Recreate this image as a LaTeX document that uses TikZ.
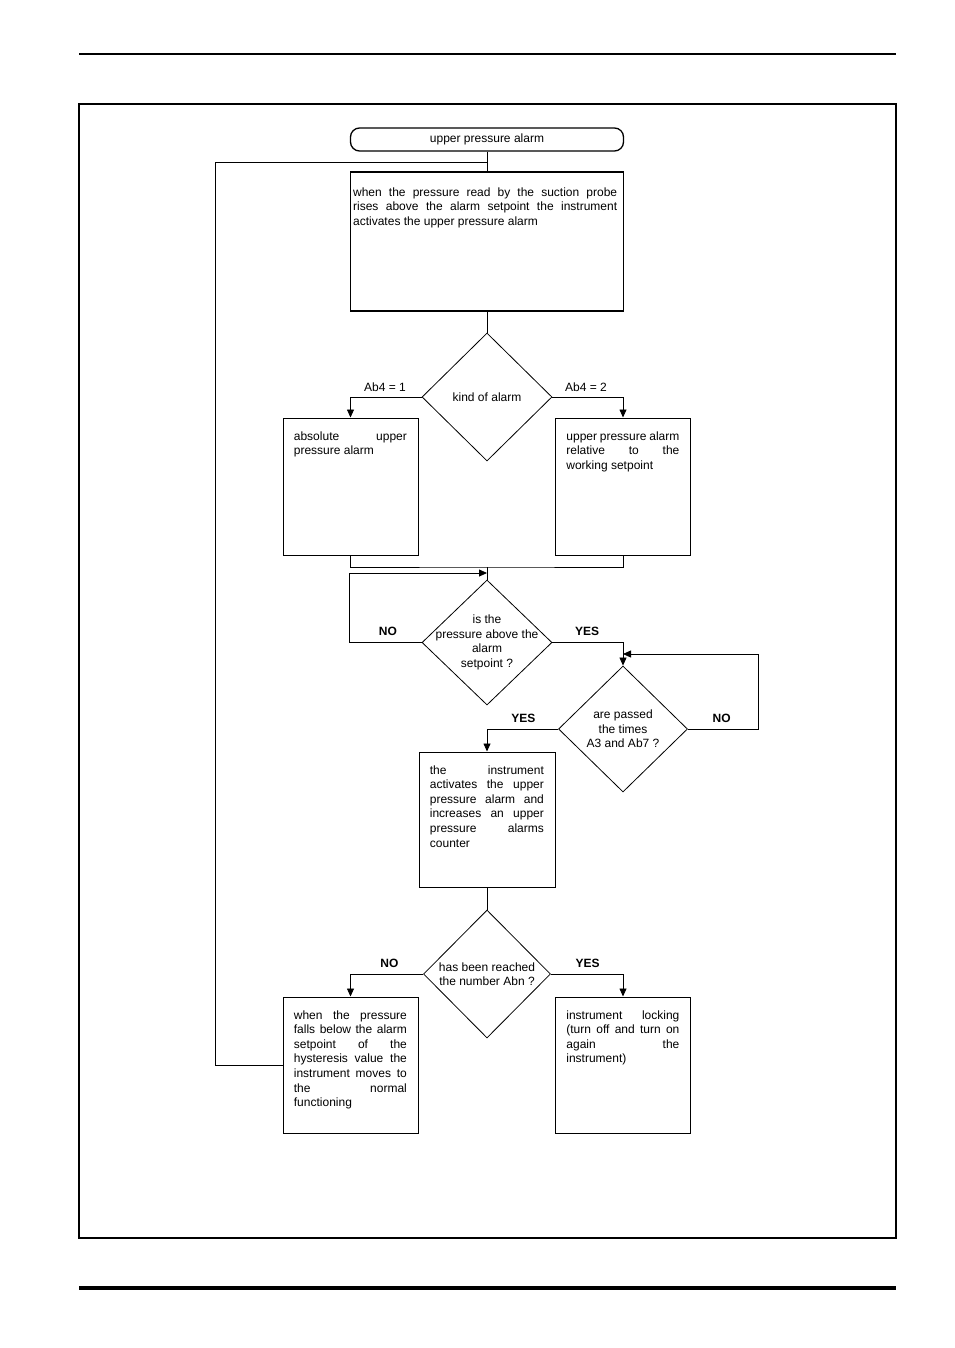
\documentclass[tikz,border=0pt]{standalone}
\usepackage{fontspec}
\setmainfont{Liberation Sans}
\usetikzlibrary{shapes.geometric,arrows.meta,positioning,calc}

\begin{document}
\begin{tikzpicture}[
  x=1pt, y=-1pt,
  font=\fontsize{12}{14.6}\selectfont,
  line width=0.8pt,
  terminal/.style={draw, rounded corners=9pt, line width=1.3pt,
    minimum width=273pt, minimum height=23pt},
  process/.style={draw, line width=1pt, inner sep=0pt},
  boxtext/.style={anchor=north west, inner sep=0pt, align=justify},
  decision/.style={draw, diamond, inner sep=0pt, line width=0.8pt},
  dectext/.style={align=center, inner sep=0pt},
  branch/.style={font=\fontsize{12}{14}\selectfont},
  answer/.style={font=\fontsize{12}{14}\bfseries\selectfont},
  flow/.style={-{Triangle[length=8pt,width=7pt]}},
  ]
  \useasboundingbox (0,0) rectangle (954,1348);
  % page frame
  \draw[line width=1.2pt] (79,54) -- (896,54);
  \draw[line width=1.8pt] (79,104) rectangle (896,1238);
  \draw[line width=3.5pt] (79,1288) -- (896,1288);

  \node[terminal] (start) at (487,139.5) {upper pressure alarm};

  \node[process, line width=1.5pt, minimum width=273pt, minimum height=139pt]
  (readbox) at (487,241.5) {};
  \node[boxtext, text width=264pt] (readtext)
  at ([xshift=3pt,yshift=-16pt]readbox.north west)
  {when the pressure read by the suction probe\linebreak
    rises above the alarm setpoint the instrument\linebreak
    activates the upper pressure alarm};

  \begin{scope}[every node/.append style={minimum width=135pt, minimum height=137pt}]
    \node[process] (absbox) at (350.5,486.5) {};
    \node[process] (relbox) at (623,486.5) {};
  \end{scope}
  \node[boxtext, text width=113pt] (abstext)
  at ([xshift=11pt,yshift=-13.5pt]absbox.north west)
  {absolute upper\linebreak pressure alarm};
  \node[boxtext, text width=113pt] (reltext)
  at ([xshift=11pt,yshift=-13.5pt]relbox.north west)
  {upper pressure alarm\linebreak relative to the\linebreak working setpoint};

  \node[process, minimum width=136pt, minimum height=135pt] (instrbox) at (487,819.5) {};
  \node[boxtext, text width=114pt] (instrtext)
  at ([xshift=11pt,yshift=-13.5pt]instrbox.north west)
  {the instrument\linebreak activates the upper\linebreak pressure alarm and\linebreak
    increases an upper\linebreak pressure alarms\linebreak counter};

  \begin{scope}[every node/.append style={minimum width=135pt, minimum height=136pt}]
    \node[process] (fallbox) at (350.5,1065) {};
    \node[process] (lockbox) at (623,1065) {};
  \end{scope}
  \node[boxtext, text width=113pt] (falltext)
  at ([xshift=11pt,yshift=-13.5pt]fallbox.north west)
  {when the pressure\linebreak falls below the alarm\linebreak setpoint of the\linebreak
    hysteresis value the\linebreak instrument moves to\linebreak the normal\linebreak functioning};
  \node[boxtext, text width=113pt] (locktext)
  at ([xshift=11pt,yshift=-13.5pt]lockbox.north west)
  {instrument locking\linebreak (turn off and turn on\linebreak again the\linebreak instrument)};

  % decisions
  \node[decision, minimum width=130pt, minimum height=128pt] (kind) at (487,397) {};
  \node[dectext] (kindtext) at (kind) {kind of alarm};
  \node[decision, minimum width=130pt, minimum height=125pt] (above) at (487,642.5) {};
  \node[dectext] (abovetext) at (above) {is the\\pressure above the\\alarm\\setpoint ?};
  \node[decision, minimum width=129pt, minimum height=126pt] (passed) at (623,729) {};
  \node[dectext] (passedtext) at (passed) {are passed\\the times\\A3 and Ab7 ?};
  \node[decision, minimum width=127pt, minimum height=128pt] (reached) at (487,974) {};
  \node[dectext] (reachedtext) at (reached) {has been reached\\the number Abn ?};

  % branch labels
  \node[branch, above left=2pt and 12pt of kind.west]  (ab4one) {Ab4 = 1};
  \node[branch, above right=2pt and 9pt of kind.east]  (ab4two) {Ab4 = 2};
  \node[answer, above left=3pt and 21pt of above.west]   (aboveno)  {NO};
  \node[answer, above right=3pt and 19pt of above.east]  (aboveyes) {YES};
  \node[answer, above left=3pt and 19pt of passed.west]  (passedyes) {YES};
  \node[answer, above right=3pt and 21pt of passed.east] (passedno)  {NO};
  \node[answer, above left=3pt and 21pt of reached.west]  (reachedno)  {NO};
  \node[answer, above right=3pt and 21pt of reached.east] (reachedyes) {YES};

  \coordinate (loopcorner) at (215,162);
  \coordinate (loopjoin)   at (487,162);
  \coordinate (merge)      at (487,567);
  \coordinate (noleft)     at (349,573);
  \coordinate (noback)     at (487,573);
  \coordinate (waitright)  at (758,654);
  \coordinate (waitjoin)   at (623,654);

  \draw (start) -- (readbox);
  \draw (readbox) -- (kind);
  \draw[flow] (kind.west) -| (absbox);
  \draw[flow] (kind.east) -| (relbox);
  \draw (absbox) |- (merge) -| (relbox);
  \draw (merge) -- (above);
  \draw[flow] (above.west) -| (noleft) -- (noback);
  \draw[flow] (above.east) -| (passed);
  \draw[flow] (passed.east) -| (waitright) -- (waitjoin);
  \draw[flow] (passed.west) -| (instrbox);
  \draw (instrbox) -- (reached);
  \draw[flow] (reached.west) -| (fallbox);
  \draw[flow] (reached.east) -| (lockbox);
  \draw (fallbox.west) -| (loopcorner) -- (loopjoin);
\end{tikzpicture}
\end{document}
